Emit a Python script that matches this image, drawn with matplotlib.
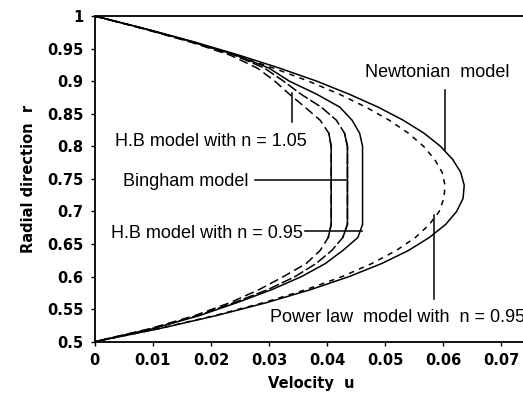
import matplotlib
matplotlib.use("Agg")
import matplotlib.pyplot as plt
import numpy as np

# radial positions (same grid for every curve)
r = [1.0, 0.98, 0.96, 0.94, 0.92, 0.90, 0.88, 0.86, 0.84, 0.82, 0.80,
     0.78, 0.76, 0.74, 0.72, 0.70, 0.68, 0.66, 0.64, 0.62, 0.60,
     0.58, 0.56, 0.54, 0.52, 0.50]

# velocity
u_newton = [0.0, 0.0089, 0.0172, 0.0248, 0.0318, 0.0382, 0.0438, 0.0488, 0.0531, 0.0567, 0.0595,
            0.0616, 0.0630, 0.0636, 0.0634, 0.0623, 0.0604, 0.0576, 0.0540, 0.0494, 0.0438,
            0.0372, 0.0296, 0.0209, 0.0111, 0.0]
u_power = [0.0, 0.0087, 0.0168, 0.0241, 0.0308, 0.0368, 0.0421, 0.0467, 0.0507, 0.0540, 0.0566,
           0.0585, 0.0598, 0.0603, 0.0601, 0.0593, 0.0576, 0.0552, 0.0519, 0.0477, 0.0426,
           0.0364, 0.0291, 0.0206, 0.0110, 0.0]
u_hb095 = [0.0, 0.0088, 0.0170, 0.0243, 0.0300, 0.0335, 0.0382, 0.0422, 0.0443, 0.0456, 0.0461,
           0.0461, 0.0461, 0.0461, 0.0461, 0.0461, 0.0461, 0.0453, 0.0427, 0.0397, 0.0356,
           0.0305, 0.0245, 0.0180, 0.0100, 0.0]
u_bingham = [0.0, 0.0087, 0.0168, 0.0240, 0.0292, 0.0325, 0.0355, 0.0390, 0.0416, 0.0430, 0.0435,
             0.0435, 0.0435, 0.0435, 0.0435, 0.0435, 0.0435, 0.0427, 0.0408, 0.0381, 0.0345,
             0.0298, 0.0240, 0.0177, 0.0098, 0.0]
u_hb105 = [0.0, 0.0085, 0.0165, 0.0233, 0.0280, 0.0310, 0.0335, 0.0362, 0.0388, 0.0403, 0.0407,
           0.0407, 0.0407, 0.0407, 0.0407, 0.0407, 0.0407, 0.0402, 0.0388, 0.0364, 0.0325,
           0.0283, 0.0233, 0.0172, 0.0095, 0.0]

xticks = [0, 0.01, 0.02, 0.03, 0.04, 0.05, 0.06, 0.07]
yticks = [0.5, 0.55, 0.6, 0.65, 0.7, 0.75, 0.8, 0.85, 0.9, 0.95, 1.0]

fig = plt.figure(figsize=(5.23, 4.19), dpi=100)
ax = fig.add_axes([0.1811, 0.1845, 0.8276, 0.7773])

r = np.array(r)
plug = (r >= 0.66) & (r <= 0.82)

lw = 1.1
ax.plot(u_newton, r, color='black', lw=lw)
ax.plot(u_power, r, color='black', lw=lw, linestyle=(0, (3.5, 3.5)))
ax.plot(u_hb095, r, color='black', lw=lw)
ax.plot(u_bingham, r, color='black', lw=lw, linestyle=(0, (7, 2)))
ax.plot(u_hb105, r, color='black', lw=lw, linestyle=(0, (6, 3)))
# plug parts look solid
ax.plot(np.array(u_bingham)[plug], r[plug], color='black', lw=lw)
ax.plot(np.array(u_hb105)[plug], r[plug], color='black', lw=lw)

ax.set_xlim(0, 0.0745)
ax.set_ylim(0.5, 1.0)
ax.set_xticks(xticks)
ax.set_yticks(yticks)
ax.set_xticklabels(['%g' % t for t in xticks])
ax.set_yticklabels(['%g' % t for t in yticks])
ax.tick_params(direction='out', length=3, width=1, labelsize=10.5, pad=5)
for lab in ax.get_xticklabels() + ax.get_yticklabels():
    lab.set_fontweight('bold')
for s in ax.spines.values():
    s.set_linewidth(1.3)

ax.set_xlabel('Velocity  u', fontsize=10.5, fontweight='bold', labelpad=6)
ax.set_ylabel('Radial direction  r', fontsize=10.5, fontweight='bold', labelpad=8)

# annotations
tf = dict(fontsize=13, family='Liberation Sans', ha='left', va='baseline', clip_on=False)
ax.text(0.0465, 0.9068, 'Newtonian  model', **tf)
ax.text(0.0035, 0.8004, 'H.B model with n = 1.05', **tf)
ax.text(0.0049, 0.7390, 'Bingham model', **tf)
ax.text(0.0028, 0.6587, 'H.B model with n = 0.95', **tf)
ax.text(0.0302, 0.5307, 'Power law  model with  n = 0.95', **tf)

lk = dict(color='black', lw=1.1)
ax.plot([0.0339, 0.0339], [0.8818, 0.8373], **lk)
ax.plot([0.0276, 0.0433], [0.7482, 0.7482], **lk)
ax.plot([0.0362, 0.0460], [0.6700, 0.6700], **lk)
ax.plot([0.0603, 0.0603], [0.8864, 0.7943], **lk)
ax.plot([0.0584, 0.0584], [0.6945, 0.5656], **lk)

fig.savefig('out.png', dpi=100)
